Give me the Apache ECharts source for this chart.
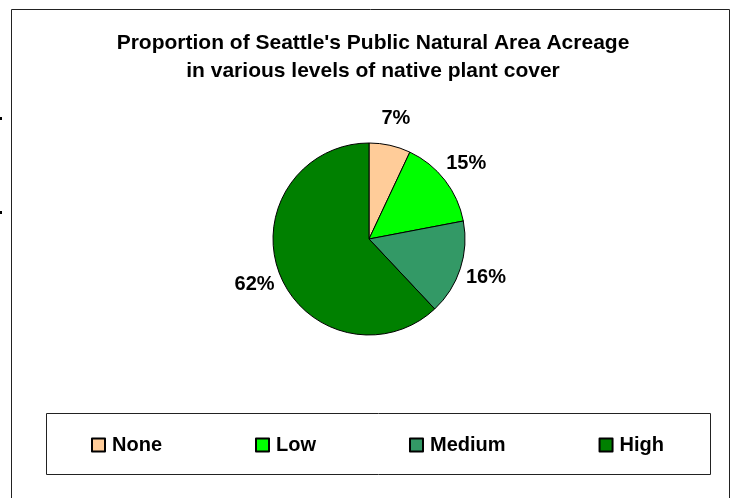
<!DOCTYPE html>
<html>
<head>
<meta charset="utf-8">
<script src="https://cdn.jsdelivr.net/npm/echarts@6/dist/echarts.min.js"></script>
<style>
  html, body { margin: 0; padding: 0; background: #fff; }
  #chart { width: 739px; height: 498px; }
</style>
</head>
<body>
<div id="chart"></div>
<script>
// cover levels and their share of acreage (%)
const categories = ['None', 'Low', 'Medium', 'High']
const shares = [7, 15, 16, 62]
const colors = ['#FFCC99', '#00FF00', '#339966', '#008000']

const font = 'Liberation Sans, Arial, sans-serif'
const pieData = categories.map((name, i) => ({
  name,
  value: shares[i],
  itemStyle: { color: colors[i] }
}))

const chart = echarts.init(document.getElementById('chart'))
chart.setOption({
  backgroundColor: '#fff',
  animation: false,
  title: {
    text: "Proportion of Seattle's Public Natural Area Acreage\nin various levels of native plant cover",
    left: 373,
    top: 29,
    padding: 0,
    textAlign: 'center',
    textStyle: {
      fontFamily: font,
      fontSize: 21,
      fontWeight: 'bold',
      color: '#000',
      lineHeight: 28
    }
  },
  legend: {
    data: categories,
    left: 91,
    top: 435,
    padding: 0,
    itemGap: 93,
    itemWidth: 13,
    itemHeight: 13,
    icon: 'rect',
    textStyle: {
      fontFamily: font,
      fontSize: 20,
      fontWeight: 'bold',
      color: '#000',
      padding: [0, 0, 0, 2]
    }
  },
  graphic: [
    // outer chart frame
    { type: 'rect', shape: { x: 11.5, y: 9.5, width: 718, height: 500 }, style: { fill: null, stroke: '#222', lineWidth: 1 }, silent: true },
    // legend frame
    { type: 'rect', shape: { x: 46.5, y: 413.5, width: 664, height: 61 }, style: { fill: null, stroke: '#222', lineWidth: 1 }, silent: true },
    { type: 'rect', shape: { x: 0, y: 117, width: 2, height: 3 }, style: { fill: '#000' }, silent: true },
    { type: 'rect', shape: { x: 0, y: 211, width: 2, height: 3 }, style: { fill: '#000' }, silent: true }
  ],
  series: [
    {
      type: 'pie',
      center: [369, 239],
      radius: 96,
      startAngle: 90,
      clockwise: true,
      silent: true,
      label: { show: false },
      labelLine: { show: false },
      itemStyle: { borderColor: '#000', borderWidth: 1 },
      data: pieData
    },
    {
      // transparent ring only used to place the percentage labels
      type: 'pie',
      center: [369, 239],
      radius: [96, 144],
      startAngle: 90,
      clockwise: true,
      silent: true,
      itemStyle: { color: 'rgba(0,0,0,0)', borderWidth: 0 },
      labelLine: { show: false },
      label: {
        show: true,
        position: 'inside',
        formatter: p => p.value + '%',
        fontFamily: font,
        fontSize: 20,
        fontWeight: 'bold',
        color: '#000'
      },
      data: categories.map((name, i) => ({ name, value: shares[i] }))
    }
  ]
})
</script>
</body>
</html>
